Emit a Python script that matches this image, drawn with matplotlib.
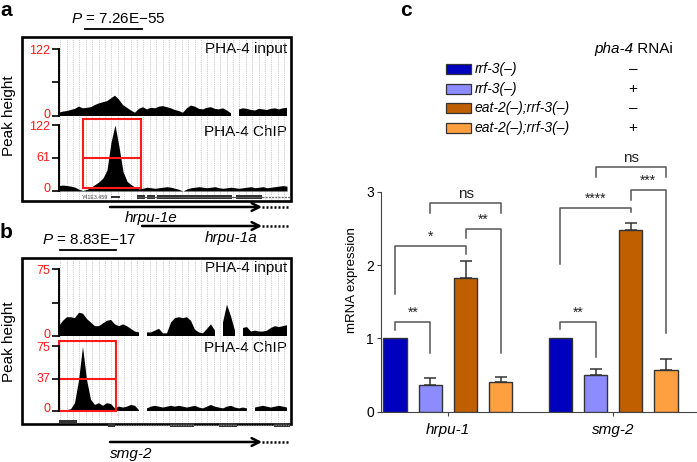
"""PHA-4 ChIP tracks (a, b) and qPCR of PHA-4 targets (c)."""
import matplotlib
matplotlib.use("Agg")
import matplotlib.pyplot as plt
import numpy as np
from matplotlib.patches import Rectangle

plt.rcParams["font.family"] = ["Liberation Sans", "DejaVu Sans"]
plt.rcParams["mathtext.fontset"] = "custom"
plt.rcParams["mathtext.it"] = "Liberation Sans:italic"
plt.rcParams["mathtext.rm"] = "Liberation Sans"

W, H = 697, 462

# ---------------------------------------------------------------------------
# Data
# ---------------------------------------------------------------------------
# read depth along each locus, 58 bins, NaN = no coverage
nan = np.nan
A_INPUT = [6, 8, 9, 11, 13, 17, 14, 15, 16, 20,
           23, 25, 27, 32, 37, 30, 20, 15, 10, 6,
           13, 16, 12, 15, 14, 17, 18, 16, 14, 11,
           9, 6, 14, 19, 17, 13, 12, 15, 16, 13,
           12, 14, 10, 5, nan, 12, 14, 13, 11, 10,
           13, 12, 11, 13, 14, 12, 14, 15]
A_CHIP = [10, 11, 10, 9, 7, 3, 1, 3, 7, 12,
          17, 24, 39, 90, 122, 82, 36, 18, 12, 7,
          4, 5, 7, 6, 5, 6, 7, 8, 7, 5,
          3, 0, 4, 6, 7, 8, 7, 6, 7, 8,
          6, 5, 6, 7, 6, 5, 6, 7, 8, 6,
          7, 8, 6, 7, 8, 9, 10, 9]
B_INPUT = [11, 17, 21, 21, 20, 26, 25, 19, 15, 11,
           11, 14, 17, 18, 13, 11, 13, 11, 8, 5,
           4, nan, 4, 4, 6, 8, 3, 3, 15, 20,
           21, 20, 21, 17, 7, 4, 3, 8, 13, 6,
           nan, 15, 35, 22, 6, nan, 9, 10, 5, 6,
           5, 5, 6, 9, 11, 10, 11, 12]
B_CHIP = [1, 1, 1, 2, 9, 35, 74, 36, 13, 7,
          9, 6, 9, 8, 3, 5, 4, 5, 7, 6,
          1, nan, 3, 5, 6, 5, 4, 5, 6, 5,
          6, 5, 4, 5, 6, 4, 3, 5, 7, 5,
          4, 3, 5, 6, 4, 3, 4, 3, nan, 4,
          5, 6, 5, 4, 5, 6, 5, 4]
A_MAX, B_MAX = 122, 75
A_PVAL, B_PVAL = "7.26E\u221255", "8.83E\u221217"

# gene models (bin units)
A_SMALL = [(13.0, 15.25)]
A_EXONS = [(19.5, 21.5), (22.0, 24.0), (24.5, 43.25), (44.25, 50.75)]
B_SMALL = [(0.0, 4.5)]
B_EXONS = [(12.25, 14.0), (27.75, 33.75), (40.0, 44.5), (53.75, 57.75)]
A_PEAK = (6.0, 20.5)
B_PEAK = (0.0, 14.25)
A_TRANSCRIPTS = [("hrpu-1e", 12.75), ("hrpu-1a", 20.75)]
B_TRANSCRIPTS = [("smg-2", 12.75)]
TX_END = 50.75

# qPCR
GENES = ["hrpu-1", "smg-2"]
STRAINS = ["rrf-3(\u2013)", "rrf-3(\u2013)", "eat-2(\u2013);rrf-3(\u2013)", "eat-2(\u2013);rrf-3(\u2013)"]
RNAI = ["\u2013", "+", "\u2013", "+"]
COLORS = ["#0000bf", "#8c8cff", "#c05f00", "#ffa040"]
MEANS = [[1.0, 0.365, 1.83, 0.41],
         [1.0, 0.50, 2.48, 0.575]]
UPPER = [[1.0, 0.455, 2.055, 0.48],
         [1.0, 0.587, 2.58, 0.72]]
# (gene, bar i, bar j, top, left end, right end, label)
BRACKETS = [
    (0, 0, 1, 1.228, 1.115, 0.797, "**"),
    (0, 0, 2, 2.26, 1.60, 2.147, "*"),
    (0, 2, 3, 2.49, 2.365, 0.805, "**"),
    (0, 1, 3, 2.84, 2.715, 2.715, "ns"),
    (1, 0, 1, 1.228, 1.124, 0.75, "**"),
    (1, 0, 2, 2.775, 2.01, 2.72, "****"),
    (1, 2, 3, 3.03, 2.89, 1.07, "***"),
    (1, 1, 3, 3.34, 3.20, 3.20, "ns"),
]

RED = "#ff1a1a"


def frac(x0, y0, x1, y1):
    return [x0 / W, 1 - y1 / H, (x1 - x0) / W, (y1 - y0) / H]


fig = plt.figure(figsize=(W / 100, H / 100), dpi=100)

ov = fig.add_axes([0, 0, 1, 1])
ov.set_xlim(0, W)
ov.set_ylim(H, 0)
ov.axis("off")


def track(y0, y1, vals, ymax, mid_label):
    ax = fig.add_axes(frac(59, y0, 291, y1))
    ax.patch.set_alpha(0)
    ax.fill_between(np.arange(len(vals)), 0, np.ma.masked_invalid(vals),
                    color="black", lw=0)
    ax.set_xlim(0, 58)
    ax.set_ylim(0, ymax)
    for s in ("top", "right", "bottom"):
        ax.spines[s].set_visible(False)
    ax.spines["left"].set_linewidth(1.4)
    ax.set_xticks([])
    mid = ymax / 2
    ax.set_yticks([0, mid, ymax])
    ax.set_yticklabels([])
    ax.tick_params(axis="y", length=5, width=1.2)
    # red tick labels, nudged apart where two tracks meet
    labels = [("0", 0, -1.5), (str(ymax), ymax, 2)]
    if mid_label:
        labels.append((str(int(mid)), mid, 0))
    for txt, v, dy in labels:
        ov.text(50, y1 - v / ymax * (y1 - y0) + dy, txt, color=RED,
                fontsize=9, ha="right", va="center")
    return ax


def panel(letter, top, bottom, p_text, p_xy, bar_x, tracks, ymax,
          peak, peak_top, peak_bot, ylab_y):
    ov.text(0, top - 26, letter, fontsize=15, fontweight="bold", va="center")
    ov.text(p_xy[0], p_xy[1], r"$P$ = " + p_text, fontsize=11,
            ha="center", va="center")
    ov.plot(bar_x, [top - 8] * 2, color="black", lw=1.3)
    ov.add_patch(Rectangle((22, top), 269, bottom - top, fill=False,
                           lw=1.9, ec="black"))
    ov.text(9, ylab_y, "Peak height", rotation=90,
            fontsize=11, ha="center", va="center")

    bg = fig.add_axes(frac(59, top + 2, 291, bottom - 1))
    bg.set_xlim(0, 58)
    bg.set_ylim(0, 1)
    bg.axis("off")
    bg.vlines(np.arange(0.3, 58, 1.6), 0, 1, color="#b8b8b8", lw=0.6,
              ls=(0, (1, 1.2)))

    axes = []
    for (y0, y1, vals, name, ty), mid_label in zip(tracks, (False, True)):
        ax = track(y0, y1, vals, ymax, mid_label)
        ov.text(287, ty, name, fontsize=11, ha="right", va="center")
        axes.append(ax)
    chip = axes[1]
    chip.add_patch(Rectangle((peak[0], peak_bot), peak[1] - peak[0],
                             peak_top - peak_bot, fill=False, ec=RED,
                             lw=1.5, clip_on=False))
    chip.plot(peak, [ymax / 2] * 2, color=RED, lw=1.5, clip_on=False)
    return axes


panel("a", 37, 201, A_PVAL, (118, 19), [85, 142],
      [(49, 116, A_INPUT, "PHA-4 input", 49),
       (125, 191, A_CHIP, "PHA-4 ChIP", 132)],
      A_MAX, A_PEAK, 133, 5.5, 116)
panel("b", 258, 424, B_PVAL, (89, 240), [60, 116],
      [(269, 336, B_INPUT, "PHA-4 input", 268),
       (346, 411, B_CHIP, "PHA-4 ChIP", 348)],
      B_MAX, B_PEAK, 81, 0, 342)


def gene_axes(y0, y1):
    ga = fig.add_axes(frac(59, y0, 291, y1))
    ga.set_xlim(0, 58)
    ga.set_ylim(y1, y0)
    ga.axis("off")
    return ga


def arrow(ga, x0, y):
    ga.annotate("", xy=(TX_END, y), xytext=(x0, y),
                arrowprops=dict(arrowstyle="->,head_length=0.55,head_width=0.28",
                                lw=1.8, color="black", shrinkA=0, shrinkB=0))
    ga.plot([TX_END, 57.6], [y, y], color="black", lw=1.8, ls=(0, (0.8, 0.8)))


# gene models, panel a
ga = gene_axes(190, 250)
ga.plot([A_EXONS[0][0], A_EXONS[-1][1]], [197, 197], color="#555", lw=0.8)
ga.plot([A_EXONS[-1][1], 57.8], [197, 197], color="#777", lw=1.0,
        ls=(0, (1.5, 0.8)))
for x0, x1 in A_SMALL:
    ga.add_patch(Rectangle((x0, 196.2), x1 - x0, 1.8, color="#333", lw=0))
for x0, x1 in A_EXONS:
    ga.add_patch(Rectangle((x0, 195), x1 - x0, 4.2, color="#333", lw=0))
ga.text(9.1, 197.3, "Y41E3.459", fontsize=3.8, color="#444",
        ha="center", va="center")
for (name, x0), y in zip(A_TRANSCRIPTS, (207, 226)):
    arrow(ga, x0, y)
ga.text(23, 218, A_TRANSCRIPTS[0][0], fontsize=11, style="italic",
        ha="center", va="center")
ga.text(43, 238, A_TRANSCRIPTS[1][0], fontsize=11, style="italic",
        ha="center", va="center")

# gene models, panel b
gb = gene_axes(412, 462)
gb.plot([B_EXONS[0][1], 57.8], [425, 425], color="#777", lw=0.9,
        ls=(0, (1.2, 0.8)))
for x0, x1 in B_SMALL:
    gb.add_patch(Rectangle((x0, 419.5), x1 - x0, 3, color="#333", lw=0))
for x0, x1 in B_EXONS:
    gb.add_patch(Rectangle((x0, 423), x1 - x0, 4.2, color="#333", lw=0))
arrow(gb, B_TRANSCRIPTS[0][1], 442)
gb.text(18, 454, B_TRANSCRIPTS[0][0], fontsize=11, style="italic",
        ha="center", va="center")

# ---------------------------------------------------------------------------
# Panel c
# ---------------------------------------------------------------------------
ov.text(400, 11, "c", fontsize=15, fontweight="bold", va="center")
ov.text(633, 49, "pha-4", fontsize=11, style="italic", ha="right", va="center")
ov.text(633, 49, " RNAi", fontsize=11, ha="left", va="center")
for k, (strain, sign, col) in enumerate(zip(STRAINS, RNAI, COLORS)):
    y = 69 + 19.7 * k
    ov.add_patch(Rectangle((446, y - 5), 25, 10, fc=col, ec="#333", lw=0.9))
    ov.text(475, y, strain, fontsize=10, style="italic", va="center")
    ov.text(633, y, sign, fontsize=11, ha="center", va="center")

bx = fig.add_axes(frac(381, 148, 697, 411.7))
bx.patch.set_alpha(0)
group_x = [0.0, 4.69]
offsets = [-1.5, -0.5, 0.5, 1.5]
for g in range(len(GENES)):
    for k in range(4):
        x = group_x[g] + offsets[k]
        m, u = MEANS[g][k], UPPER[g][k]
        bx.bar(x, m, width=0.66, color=COLORS[k], edgecolor="#333",
               lw=1.0, zorder=3)
        if u > m:
            bx.errorbar(x, m, yerr=[[0], [u - m]], fmt="none", ecolor="#333",
                        elinewidth=1.1, capsize=4.3, capthick=1.1, zorder=2)

for g, i, j, top, yl, yr, lab in BRACKETS:
    xi = group_x[g] + offsets[i]
    xj = group_x[g] + offsets[j]
    bx.plot([xi, xi, xj, xj], [yl, top, top, yr], color="#555", lw=1.1,
            clip_on=False)
    fs = 11 if lab == "ns" else 10
    bx.text((xi + xj) / 2, top + 0.03, lab, fontsize=fs, ha="center",
            va="bottom", color="#222")

bx.set_xlim(-1.90, 7.07)
bx.set_ylim(0, 3.596)
for s in ("top", "right"):
    bx.spines[s].set_visible(False)
bx.spines["left"].set_bounds(0, 3)
bx.spines["left"].set_color("#444")
bx.spines["bottom"].set_color("#444")
bx.set_yticks([0, 1, 2, 3])
bx.set_xticks(group_x)
bx.set_xticklabels(GENES, style="italic", fontsize=11)
bx.tick_params(axis="y", labelsize=10, length=3, color="#444", pad=2)
bx.tick_params(axis="x", length=3, color="#444", pad=5)
bx.set_ylabel("mRNA expression", fontsize=9.5, labelpad=6)

fig.savefig("out.png", dpi=100)
